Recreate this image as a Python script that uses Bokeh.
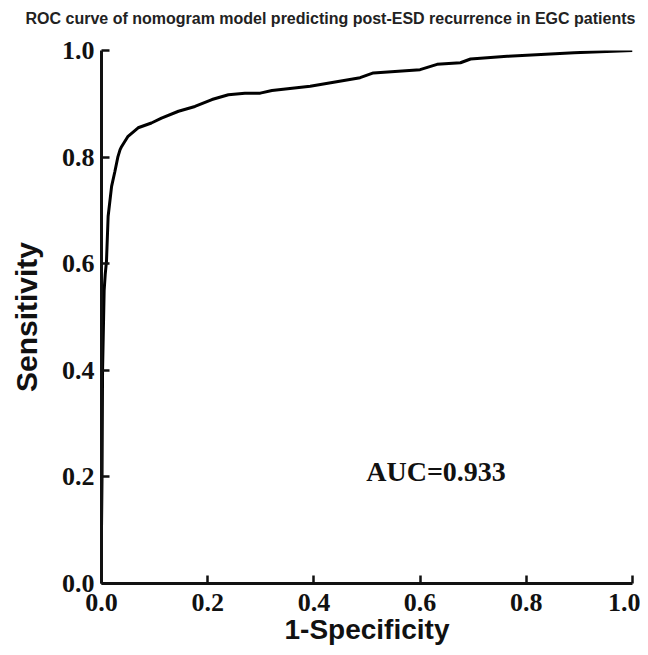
from bokeh.plotting import figure
from bokeh.models import FixedTicker, PrintfTickFormatter, Title
from bokeh.core.properties import value
from bokeh.embed import file_html
from bokeh.resources import INLINE

# ROC curve points
fpr = [0.0, 0.0, 0.001, 0.002, 0.004, 0.005, 0.007, 0.0094, 0.0125, 0.019, 0.025,
       0.031, 0.035, 0.038, 0.050, 0.069, 0.094, 0.113, 0.145, 0.176, 0.208,
       0.239, 0.270, 0.299, 0.321, 0.393, 0.487, 0.512, 0.600, 0.632, 0.676,
       0.695, 0.764, 0.890, 1.0]
tpr = [0.0, 0.1, 0.2, 0.4, 0.5, 0.55, 0.58, 0.605, 0.689, 0.745, 0.772,
       0.801, 0.814, 0.820, 0.839, 0.855, 0.864, 0.873, 0.886, 0.895, 0.908,
       0.917, 0.920, 0.920, 0.925, 0.933, 0.949, 0.958, 0.964, 0.974, 0.977,
       0.984, 0.989, 0.996, 1.0]
ticks = [0.0, 0.2, 0.4, 0.6, 0.8, 1.0]
title_text = "ROC curve of nomogram model predicting post-ESD recurrence in EGC patients"
auc_label = "AUC=0.933"
auc_pos = (0.63, 0.21)

p = figure(width=640, height=647, output_backend="svg", toolbar_location=None,
           x_range=(0, 1), y_range=(0, 1),
           min_border_left=101, min_border_right=8, min_border_top=50, min_border_bottom=64)
p.outline_line_color = None
p.grid.visible = False
p.background_fill_color = "white"
p.border_fill_color = "white"

# spacer between frame and title (first added sits closest to the frame)
p.add_layout(Title(text=" ", text_font_size="1px", standoff=10), "above")
p.add_layout(Title(text=title_text, align="left", offset=-76, vertical_align="top",
                   text_font="Liberation Sans", text_font_size="16px",
                   text_font_style="bold", text_color="#222222",
                   standoff=18), "above")

p.line(fpr, tpr, line_color="black", line_width=3)

p.text(x=[auc_pos[0]], y=[auc_pos[1]], text=[auc_label],
       text_font=value("Liberation Serif"), text_font_style="bold",
       text_font_size="28px", text_align="center", text_baseline="middle",
       text_color="#111111")

for ax in (p.xaxis[0], p.yaxis[0]):
    ax.ticker = FixedTicker(ticks=ticks)
    ax.formatter = PrintfTickFormatter(format="%.1f")
    ax.axis_line_width = 3
    ax.axis_line_color = "#111111"
    ax.major_tick_line_width = 2.5
    ax.major_tick_line_color = "#111111"
    ax.major_tick_in = 8
    ax.major_tick_out = 0
    ax.minor_tick_line_color = None
    ax.major_label_text_font = "Liberation Serif"
    ax.major_label_text_font_style = "bold"
    ax.major_label_text_font_size = "26px"
    ax.major_label_text_color = "#111111"
    ax.axis_label_text_font = "Liberation Sans"
    ax.axis_label_text_font_style = "bold"
    ax.axis_label_text_color = "#111111"

p.xaxis.axis_label = "1-Specificity"
p.yaxis.axis_label = "Sensitivity"
p.xaxis.axis_label_text_font_size = "28px"
p.yaxis.axis_label_text_font_size = "30px"
p.xaxis.major_label_standoff = 10
p.yaxis.major_label_standoff = 7
p.xaxis.axis_label_standoff = 0
p.yaxis.axis_label_standoff = 16

open("out.html", "w").write(file_html(p, INLINE))
